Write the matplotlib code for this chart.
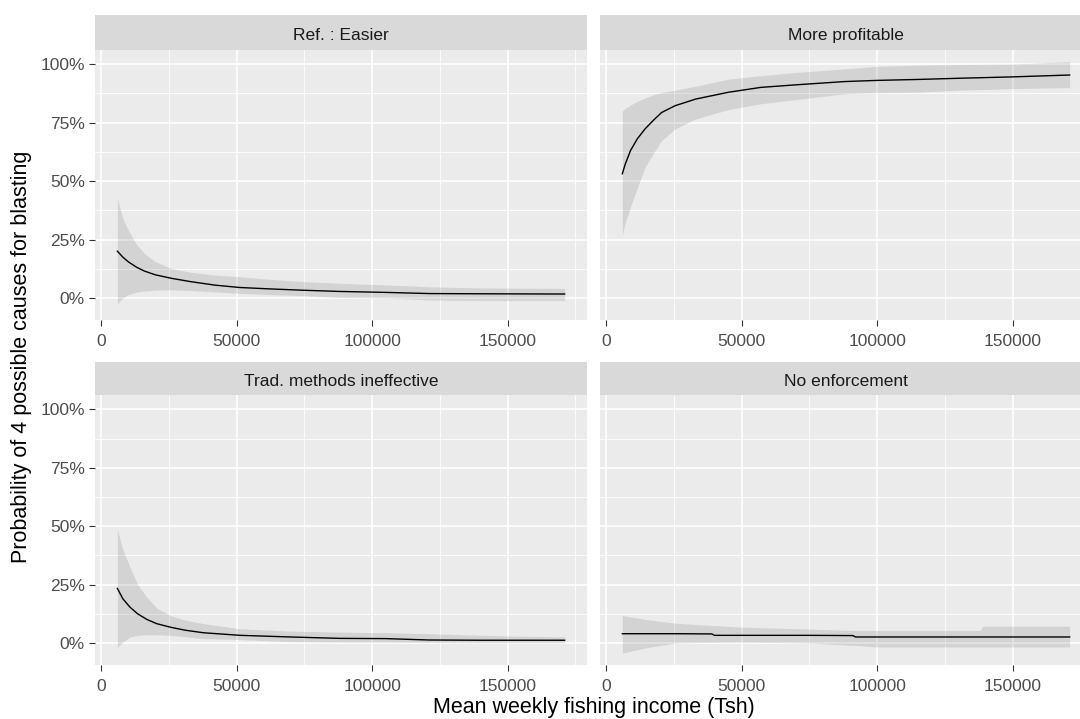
import matplotlib.pyplot as plt
from matplotlib.ticker import FixedLocator, FuncFormatter

plt.rcParams["font.family"] = ["Liberation Sans", "DejaVu Sans"]

# predicted probability (mean, lower CI, upper CI) along weekly income, per cause
easier_x = [6000, 8000, 10000, 13000, 16000, 20000, 26000, 33000, 42000, 51000,
            62000, 75000, 88000, 105000, 121000, 140000, 171000]
easier_fit = [0.200, 0.175, 0.155, 0.132, 0.115, 0.099, 0.084, 0.070, 0.055, 0.045,
              0.039, 0.033, 0.028, 0.024, 0.019, 0.018, 0.017]
easier_lo = [-0.026, 0.000, 0.015, 0.025, 0.030, 0.034, 0.035, 0.032, 0.026, 0.020,
             0.015, 0.010, 0.002, 0.000, -0.008, -0.011, -0.011]
easier_hi = [0.425, 0.340, 0.290, 0.230, 0.190, 0.155, 0.126, 0.110, 0.098, 0.091,
             0.080, 0.070, 0.063, 0.056, 0.048, 0.043, 0.041]

profit_x = [6000, 7000, 9000, 11500, 14400, 17500, 20500, 25500, 33000, 45000,
            57000, 70000, 88000, 100000, 115000, 130000, 150000, 171000]
profit_fit = [0.531, 0.570, 0.630, 0.680, 0.723, 0.760, 0.793, 0.822, 0.850, 0.879,
              0.900, 0.911, 0.925, 0.930, 0.934, 0.939, 0.945, 0.953]
profit_lo = [0.268, 0.320, 0.389, 0.470, 0.560, 0.620, 0.673, 0.723, 0.765, 0.805,
             0.830, 0.848, 0.873, 0.878, 0.880, 0.888, 0.895, 0.899]
profit_hi = [0.800, 0.810, 0.825, 0.840, 0.855, 0.868, 0.878, 0.888, 0.905, 0.935,
             0.950, 0.964, 0.979, 0.990, 0.995, 0.998, 1.000, 1.010]

trad_x = [6000, 8000, 10700, 13500, 16900, 20500, 25500, 31000, 37800, 51300,
          69700, 88000, 105000, 121000, 140000, 171000]
trad_fit = [0.234, 0.190, 0.153, 0.125, 0.101, 0.083, 0.068, 0.055, 0.044, 0.033,
            0.026, 0.020, 0.019, 0.013, 0.012, 0.012]
trad_lo = [-0.020, 0.005, 0.026, 0.033, 0.036, 0.036, 0.033, 0.027, 0.019, 0.015,
           0.006, 0.004, 0.004, 0.002, 0.001, 0.001]
trad_hi = [0.487, 0.400, 0.324, 0.250, 0.196, 0.150, 0.118, 0.098, 0.083, 0.061,
           0.051, 0.047, 0.044, 0.040, 0.033, 0.026]

enf_x = [6000, 15000, 25500, 39000, 40000, 50000, 74700, 91000, 92000, 100000,
         138000, 139000, 171000]
enf_fit = [0.040, 0.040, 0.040, 0.039, 0.033, 0.033, 0.033, 0.032, 0.026, 0.026,
           0.026, 0.026, 0.026]
enf_lo = [-0.043, -0.020, 0.000, 0.003, 0.003, 0.004, 0.000, -0.010, -0.010, -0.017,
          -0.017, -0.017, -0.017]
enf_hi = [0.118, 0.100, 0.085, 0.075, 0.075, 0.068, 0.060, 0.054, 0.054, 0.054,
          0.054, 0.072, 0.072]

panel_titles = ["Ref. : Easier", "More profitable",
                "Trad. methods ineffective", "No enforcement"]
panels = [
    (easier_x, easier_fit, easier_lo, easier_hi),
    (profit_x, profit_fit, profit_lo, profit_hi),
    (trad_x, trad_fit, trad_lo, trad_hi),
    (enf_x, enf_fit, enf_lo, enf_hi),
]

x_breaks = [0, 50000, 100000, 150000]
x_minor = [25000, 75000, 125000, 175000]
y_breaks = [0, 0.25, 0.5, 0.75, 1.0]
y_minor = [0.125, 0.375, 0.625, 0.875]

W, H = 1080, 719
fig = plt.figure(figsize=(W / 100, H / 100), dpi=100)

# panel boxes in pixels: left, top, right, bottom (plot area), strip top
boxes = [
    (95, 49.5, 587, 320, 15),
    (600, 49.5, 1092, 320, 15),
    (95, 395, 587, 665, 362),
    (600, 395, 1092, 665, 362),
]

for i, ((l, t, r, b, st), (xs, fit, lo, hi), title) in enumerate(zip(boxes, panels, panel_titles)):
    ax = fig.add_axes([l / W, 1 - b / H, (r - l) / W, (b - t) / H])
    ax.set_facecolor("#EBEBEB")
    for s in ax.spines.values():
        s.set_visible(False)
    ax.set_xlim(-2250, 179250)
    ax.set_ylim(-0.094, 1.062)

    for v in x_minor:
        ax.axvline(v, color="white", lw=0.6, zorder=0.5)
    for v in y_minor:
        ax.axhline(v, color="white", lw=0.6, zorder=0.5)
    for v in x_breaks:
        ax.axvline(v, color="white", lw=1.2, zorder=0.6)
    for v in y_breaks:
        ax.axhline(v, color="white", lw=1.2, zorder=0.6)

    ax.fill_between(xs, lo, hi, color="black", alpha=0.1, lw=0, zorder=1)
    ax.plot(xs, fit, color="black", lw=1.0, zorder=2)

    ax.xaxis.set_major_locator(FixedLocator(x_breaks))
    ax.yaxis.set_major_locator(FixedLocator(y_breaks))
    ax.yaxis.set_major_formatter(FuncFormatter(lambda v, p: f"{v * 100:.0f}%"))
    ax.tick_params(axis="both", length=4.3, width=0.8, color="#333333",
                   labelcolor="#4D4D4D", labelsize=12.5, pad=3)
    ax.tick_params(axis="x", pad=5.5)
    if i % 2 == 1:
        ax.tick_params(axis="y", left=False, labelleft=False)

    sax = fig.add_axes([l / W, 1 - t / H, (r - l) / W, (t - st) / H])
    sax.set_facecolor("#D9D9D9")
    sax.set_xticks([])
    sax.set_yticks([])
    for s in sax.spines.values():
        s.set_visible(False)
    sax.text(0.5, 0.42, title, ha="center", va="center", fontsize=12.5,
             color="#1A1A1A", transform=sax.transAxes)

fig.text(593.5 / W, 1 - 708 / H, "Mean weekly fishing income (Tsh)",
         ha="center", va="center", fontsize=15.5, color="black")
fig.text(22 / W, 1 - 357 / H, "Probability of 4 possible causes for blasting",
         ha="center", va="center", rotation=90, fontsize=15.5, color="black")

fig.savefig("out.png", dpi=100)
